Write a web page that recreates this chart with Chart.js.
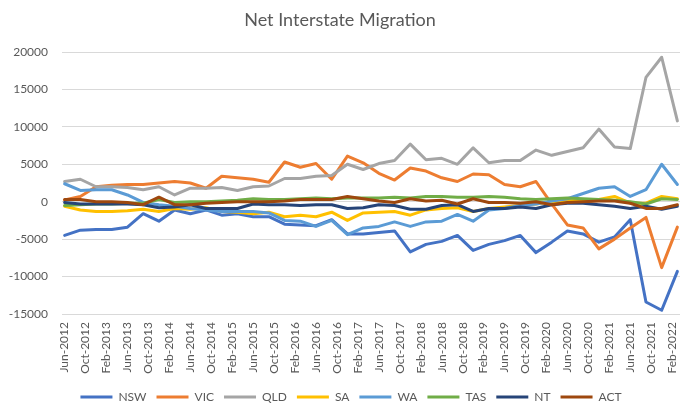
<!DOCTYPE html>
<html><head><meta charset="utf-8">
<script src="https://cdn.jsdelivr.net/npm/chart.js@4.4.0/dist/chart.umd.min.js"></script>
<style>html,body{margin:0;padding:0;background:#fff;}#wrap{width:680px;height:405px;}</style>
</head><body><div id="wrap"><canvas id="c" width="680" height="405"></canvas></div>
<script>
const quarters = ["Jun-2012","Sep-2012","Dec-2012","Mar-2013","Jun-2013","Sep-2013","Dec-2013","Mar-2014","Jun-2014","Sep-2014","Dec-2014","Mar-2015","Jun-2015","Sep-2015","Dec-2015","Mar-2016","Jun-2016","Sep-2016","Dec-2016","Mar-2017","Jun-2017","Sep-2017","Dec-2017","Mar-2018","Jun-2018","Sep-2018","Dec-2018","Mar-2019","Jun-2019","Sep-2019","Dec-2019","Mar-2020","Jun-2020","Sep-2020","Dec-2020","Mar-2021","Jun-2021","Sep-2021","Dec-2021","Mar-2022"];
const tickLabels = ["Jun-2012","Oct-2012","Feb-2013","Jun-2013","Oct-2013","Feb-2014","Jun-2014","Oct-2014","Feb-2015","Jun-2015","Oct-2015","Feb-2016","Jun-2016","Oct-2016","Feb-2017","Jun-2017","Oct-2017","Feb-2018","Jun-2018","Oct-2018","Feb-2019","Jun-2019","Oct-2019","Feb-2020","Jun-2020","Oct-2020","Feb-2021","Jun-2021","Oct-2021","Feb-2022"];
const yTicks = [-15000,-10000,-5000,0,5000,10000,15000,20000];

const NSW = [-4500,-3800,-3700,-3700,-3400,-1600,-2600,-1100,-1600,-1100,-1800,-1600,-2000,-2000,-3000,-3100,-3200,-2400,-4300,-4300,-4100,-3900,-6700,-5700,-5300,-4500,-6500,-5700,-5200,-4500,-6800,-5400,-3900,-4300,-5400,-4700,-2400,-13400,-14500,-9300];
const VIC = [250,700,2000,2200,2300,2300,2500,2700,2500,1800,3400,3200,3000,2600,5300,4600,5100,3000,6100,5200,3800,2900,4500,4100,3200,2700,3700,3600,2300,2000,2700,-300,-3100,-3500,-6300,-5000,-3500,-2100,-8800,-3400];
const QLD = [2700,3000,2000,2000,1900,1600,2000,900,1800,1800,1900,1500,2000,2100,3100,3100,3400,3500,5000,4300,5100,5500,7700,5600,5800,5000,7200,5200,5500,5500,6900,6200,6700,7200,9700,7300,7100,16600,19300,10800];
const SA  = [-600,-1100,-1300,-1300,-1200,-1000,-1300,-900,-1000,-800,-1300,-1400,-1600,-1400,-2000,-1800,-2000,-1400,-2500,-1500,-1400,-1300,-1800,-1100,-900,-800,-1300,-900,-700,-500,-300,0,100,300,300,700,-200,-200,700,400];
const WA  = [2400,1500,1600,1600,900,-100,-400,-600,-900,-1100,-1300,-1300,-1300,-1500,-2500,-2600,-3300,-2500,-4400,-3500,-3300,-2700,-3300,-2700,-2600,-1700,-2600,-1100,-900,-500,-300,100,400,1100,1800,2000,700,1600,5000,2300];
const TAS = [-500,-400,-300,-300,-200,-200,300,-100,0,0,100,200,400,300,300,400,500,400,500,500,500,600,500,700,700,600,600,700,600,400,300,400,500,400,300,200,0,-300,400,300];
const NT  = [-100,-300,-300,-300,-300,-400,-800,-700,-400,-900,-900,-900,-300,-400,-400,-500,-400,-400,-900,-800,-400,-500,-1000,-1000,-500,-400,-1300,-900,-900,-700,-900,-400,-200,-200,-400,-600,-900,-600,-1000,-600];
const ACT = [300,300,0,0,-100,-400,600,-400,-400,-200,-100,0,0,0,100,300,300,300,700,400,100,-100,400,100,200,-300,400,-100,-100,-200,0,-400,-100,0,100,100,-200,-900,-900,-400];

const seriesNames = ["NSW","VIC","QLD","SA","WA","TAS","NT","ACT"];
const seriesValues = [NSW,VIC,QLD,SA,WA,TAS,NT,ACT];
const seriesColors = ["#4472C4","#ED7D31","#A5A5A5","#FFC000","#5B9BD5","#70AD47","#264478","#9E480E"];

const MONTHS = {Jan:0,Feb:1,Mar:2,Apr:3,May:4,Jun:5,Jul:6,Aug:7,Sep:8,Oct:9,Nov:10,Dec:11};
function monthIndex(lbl){ const p = lbl.split('-'); return (parseInt(p[1],10)-2012)*12 + MONTHS[p[0]] - 5; }
const tickByIndex = {};
tickLabels.forEach(l => { tickByIndex[monthIndex(l)] = l; });

const FONT = 'Lato';
const datasets = seriesNames.map((name, k) => ({
  label: name,
  data: quarters.map((q, i) => ({x: monthIndex(q), y: seriesValues[k][i]})),
  borderColor: seriesColors[k],
  backgroundColor: seriesColors[k],
  borderWidth: 3,
  pointRadius: 0,
  tension: 0,
  borderCapStyle: 'round',
  borderJoinStyle: 'round',
  order: seriesNames.length - k
}));

const legendShift = {
  id: 'legendShift',
  afterLayout(chart) { if (chart.legend) { chart.legend.left += 11; chart.legend.right += 11; } }
};

new Chart(document.getElementById('c'), {
  type: 'line',
  data: { datasets },
  plugins: [legendShift],
  options: {
    responsive: false,
    animation: false,
    devicePixelRatio: 1,
    layout: { padding: { left: 0, right: 0, top: 0, bottom: -8 } },
    plugins: {
      title: { display: true, text: 'Net Interstate Migration', color: '#595959',
        font: { family: FONT, size: 18, weight: 'normal' }, padding: { top: 9, bottom: 21.4 } },
      legend: { position: 'bottom',
        labels: { usePointStyle: true, pointStyle: 'line', pointStyleWidth: 32, color: '#595959',
          font: { family: FONT, size: 12 }, padding: 10,
          sort: (a, b) => a.datasetIndex - b.datasetIndex } },
      tooltip: { enabled: false }
    },
    scales: {
      x: { type: 'linear', min: -0.5, max: 117.5,
        grid: { display: false, drawTicks: false }, border: { display: false },
        afterBuildTicks: s => { s.ticks = tickLabels.map(l => ({ value: monthIndex(l) })); },
        afterFit: s => { s.height = 67; s.paddingLeft = 0; s.paddingRight = 0; },
        ticks: { autoSkip: false, maxRotation: 90, minRotation: 90, padding: 8, color: '#595959',
          font: { family: FONT, size: 12 }, callback: v => tickByIndex[v] || '' } },
      y: { min: -15000, max: 20000,
        afterBuildTicks: s => { s.ticks = yTicks.map(v => ({ value: v })); },
        afterFit: s => { s.width = 62; },
        grid: { color: '#D9D9D9', drawTicks: false }, border: { display: false },
        ticks: { padding: 14, color: '#595959', font: { family: FONT, size: 12 }, callback: v => String(v) } }
    }
  }
});
</script></body></html>
